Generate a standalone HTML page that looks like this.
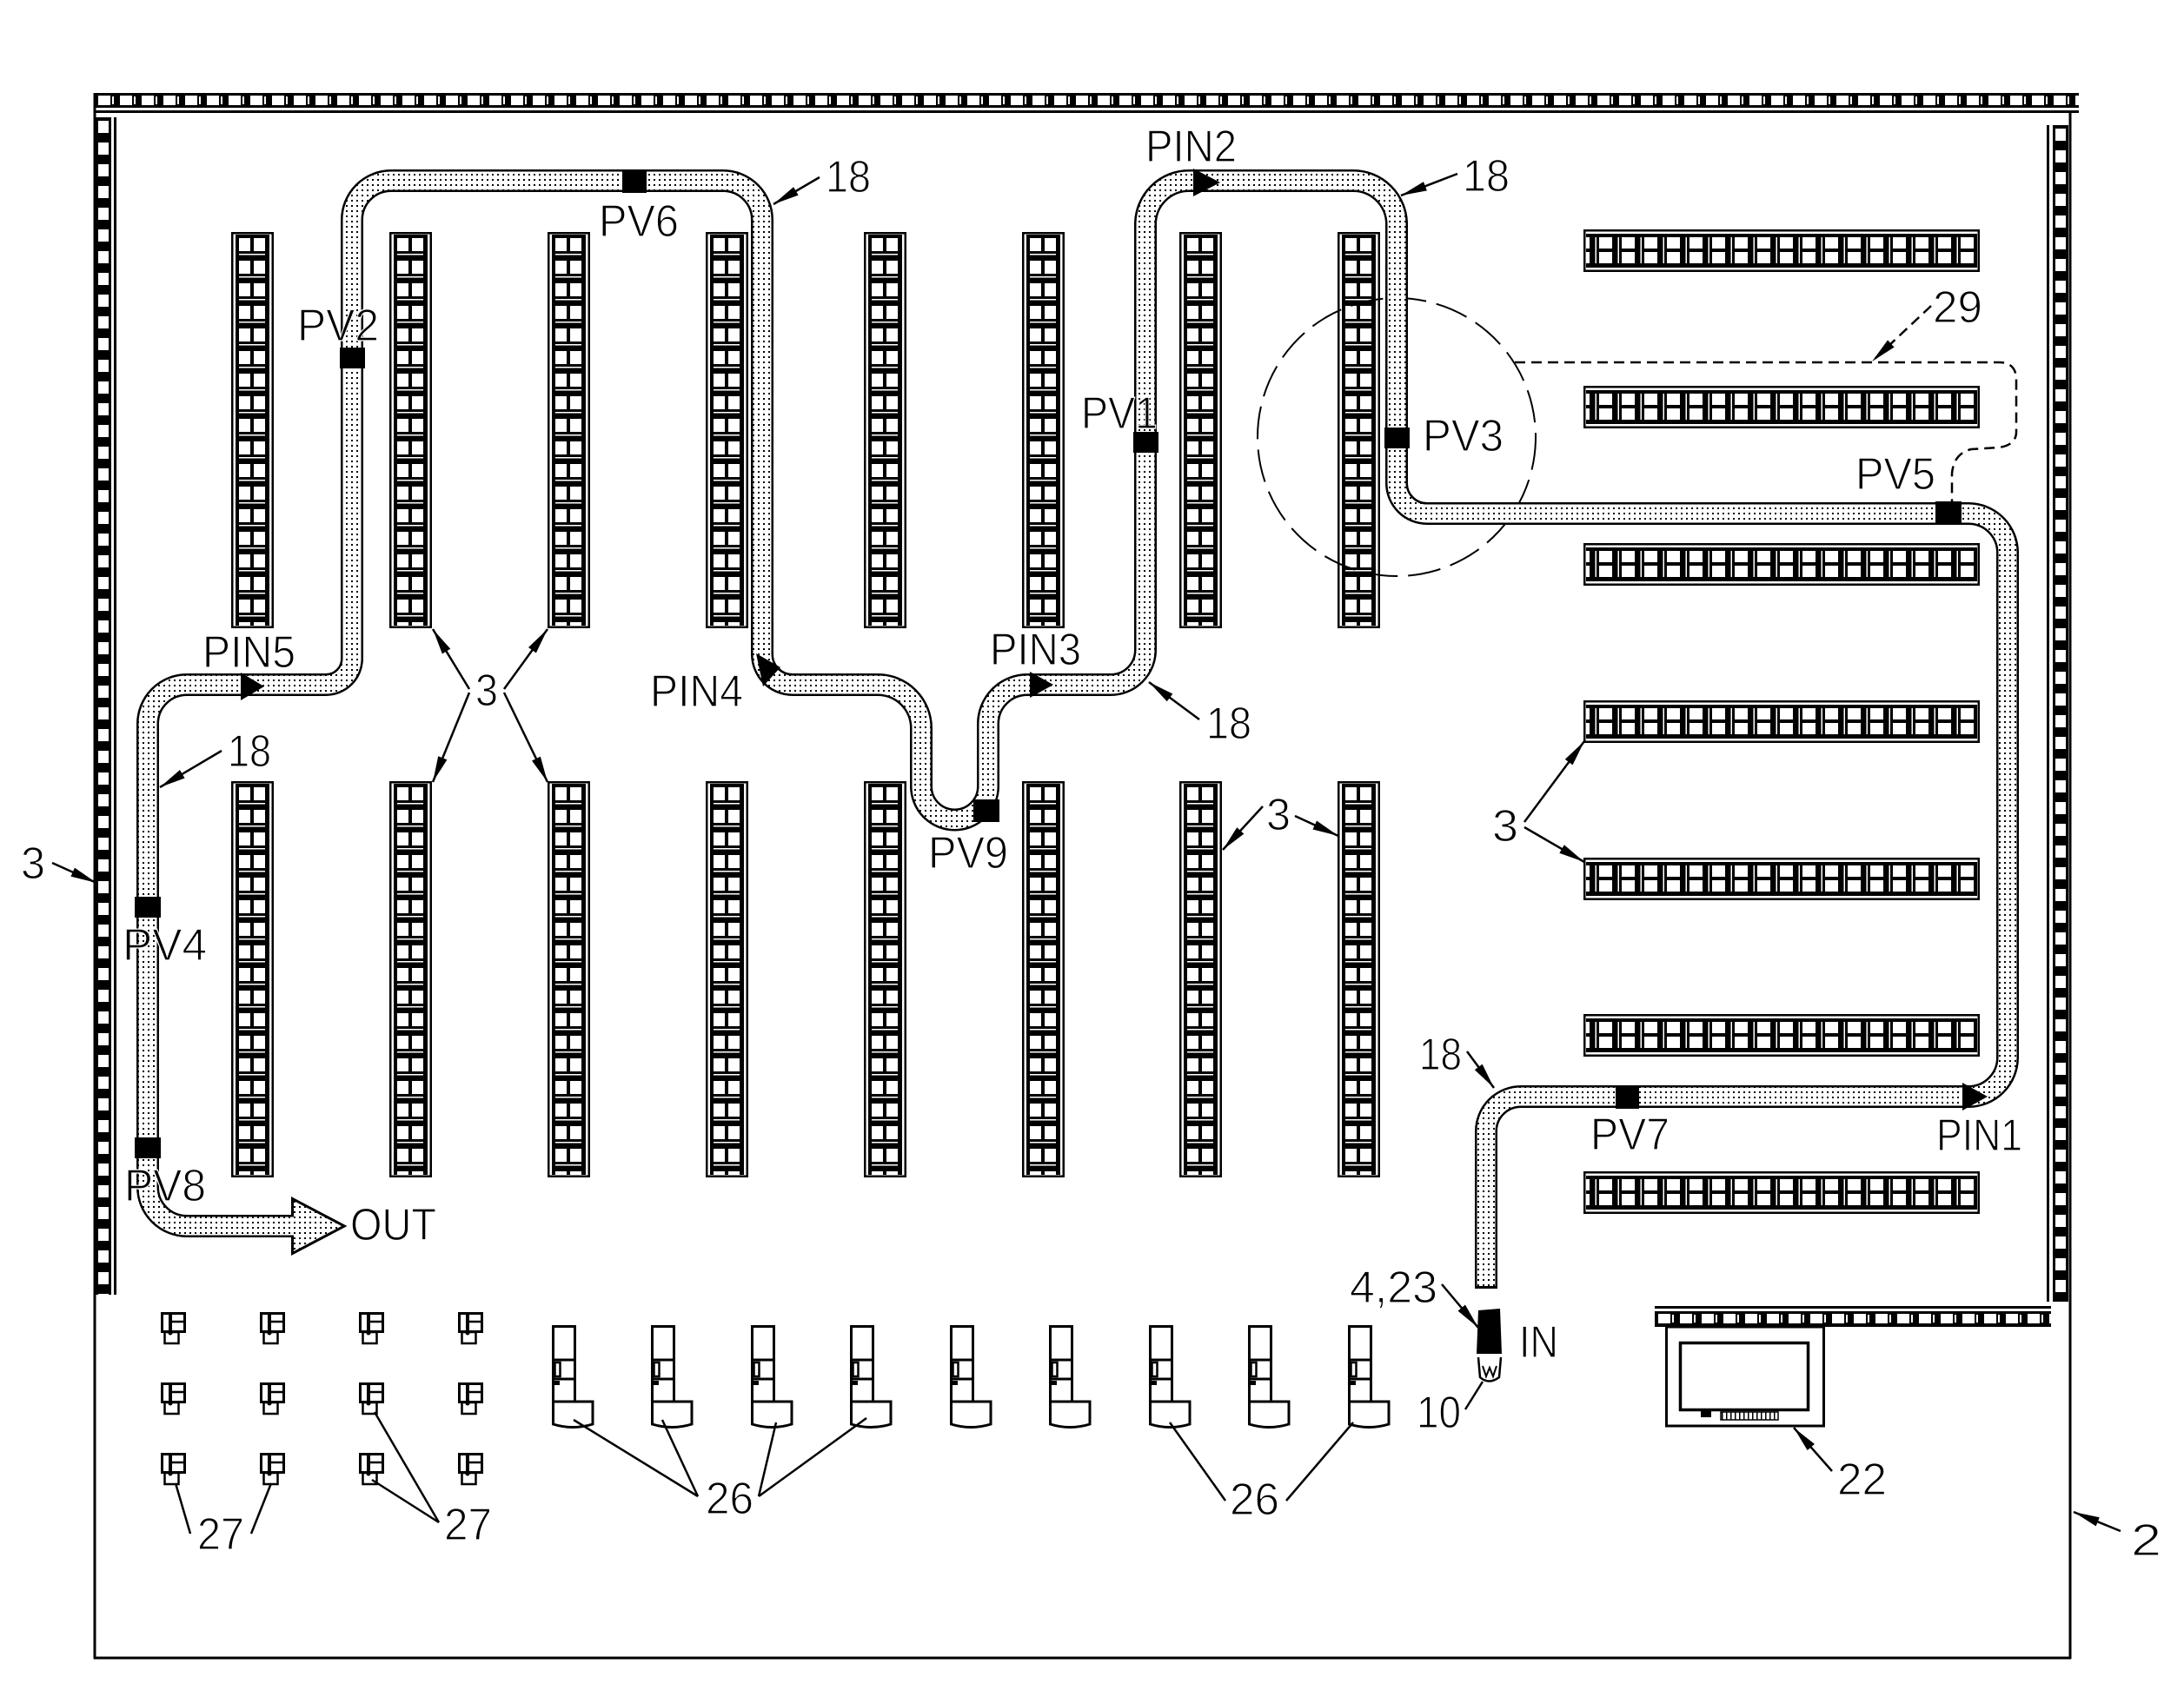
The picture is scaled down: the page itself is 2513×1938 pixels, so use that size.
<!DOCTYPE html>
<html><head><meta charset="utf-8">
<style>html,body{margin:0;padding:0;background:#fff}svg{display:block}</style>
</head><body>
<svg width="2513" height="1938" viewBox="0 0 2513 1938" xmlns="http://www.w3.org/2000/svg" xmlns:xlink="http://www.w3.org/1999/xlink">
<defs>
  <pattern id="dots" x="0" y="0" width="6" height="6" patternUnits="userSpaceOnUse">
    <rect width="6" height="6" fill="#fff"/><rect x="2" y="2" width="2" height="2" fill="#000"/>
  </pattern>
  <pattern id="vc" x="8" y="3" width="33" height="26" patternUnits="userSpaceOnUse">
    <rect width="33" height="26" fill="#000"/>
    <rect x="1" y="4" width="13" height="15" fill="#fff"/>
    <rect x="18" y="4" width="13" height="15" fill="#fff"/>
    <rect x="1" y="22" width="30" height="1.5" fill="#fff"/>
  </pattern>
  <g id="vr">
    <rect x="1.25" y="1.25" width="46.5" height="453.5" fill="#fff" stroke="#000" stroke-width="2.5"/>
    <rect x="5" y="3" width="39" height="450" fill="#000"/>
    <rect x="8" y="3" width="33" height="450" fill="url(#vc)"/>
  </g>
  <pattern id="vw" x="110" y="135" width="18" height="25" patternUnits="userSpaceOnUse">
    <rect width="18" height="25" fill="#000"/><rect x="3" y="4" width="12" height="14" fill="#fff"/>
  </pattern>
  <pattern id="vw2" x="2362" y="144" width="18" height="25" patternUnits="userSpaceOnUse">
    <rect width="18" height="25" fill="#000"/><rect x="3" y="4" width="12" height="14" fill="#fff"/>
  </pattern>
  <pattern id="hw" x="109" y="107" width="25" height="17" patternUnits="userSpaceOnUse">
    <rect width="25" height="17" fill="#000"/><rect x="4" y="3" width="14" height="11" fill="#fff"/><rect x="20" y="4" width="2" height="9" fill="#fff"/>
  </pattern>
  <pattern id="hw2" x="1904" y="1509" width="25" height="17" patternUnits="userSpaceOnUse">
    <rect width="25" height="17" fill="#000"/><rect x="4" y="3" width="14" height="11" fill="#fff"/><rect x="20" y="4" width="2" height="9" fill="#fff"/>
  </pattern>
  <pattern id="strip" x="1980" y="1625" width="5" height="9" patternUnits="userSpaceOnUse">
    <rect width="5" height="9" fill="#fff"/><rect x="1" width="1.5" height="9" fill="#000"/>
  </pattern>
  <marker id="ar" markerUnits="userSpaceOnUse" markerWidth="32" markerHeight="14" refX="30" refY="7" orient="auto">
    <path d="M0,1.5 L30,7 L0,12.5 Z" fill="#000"/>
  </marker>
  <g id="u26">
    <rect x="1.5" y="1.5" width="25" height="87" fill="#fff" stroke="#000" stroke-width="3"/>
    <line x1="0" y1="40" x2="27" y2="40" stroke="#000" stroke-width="3"/>
    <line x1="0" y1="62" x2="27" y2="62" stroke="#000" stroke-width="3"/>
    <rect x="3.5" y="43" width="6" height="16" fill="none" stroke="#000" stroke-width="2.5"/>
    <rect x="3" y="64" width="6" height="5" fill="#000"/>
    <path d="M1.5,88 L47,88 L47,114 Q24,121 1.5,114 Z" fill="#fff" stroke="#000" stroke-width="3"/>
  </g>
  <g id="u27">
    <rect x="4.5" y="23" width="16" height="13" fill="#fff" stroke="#000" stroke-width="2.5"/>
    <rect x="1.5" y="1.5" width="26" height="21" fill="#fff" stroke="#000" stroke-width="3"/>
    <line x1="11" y1="1.5" x2="11" y2="24" stroke="#000" stroke-width="4"/>
    <line x1="11" y1="11" x2="27" y2="11" stroke="#000" stroke-width="2.5"/>
    <circle cx="11" cy="24" r="2.5" fill="#000"/>
  </g>
</defs>

<rect width="2513" height="1938" fill="#fff"/>

<!-- building outline -->
<g stroke="#000" stroke-width="3" fill="none">
  <line x1="109" y1="107" x2="109" y2="1909"/>
  <line x1="108" y1="1908" x2="2383" y2="1908"/>
  <line x1="2382" y1="130" x2="2382" y2="1909"/>
</g>

<!-- walls -->
<rect x="109" y="107" width="2283" height="17" fill="url(#hw)"/>
<rect x="109" y="127" width="2283" height="3" fill="#000"/>
<rect x="110" y="135" width="18" height="1355" fill="url(#vw)"/>
<rect x="131" y="135" width="3" height="1355" fill="#000"/>
<rect x="2362" y="144" width="18" height="1354" fill="url(#vw2)"/>
<rect x="2355" y="144" width="3" height="1354" fill="#000"/>
<rect x="1904" y="1509" width="456" height="18" fill="url(#hw2)"/>
<rect x="1904" y="1503" width="456" height="3" fill="#000"/>

<!-- vertical racks -->
<use xlink:href="#vr" href="#vr" x="266" y="267"/>
<use xlink:href="#vr" href="#vr" x="448" y="267"/>
<use xlink:href="#vr" href="#vr" x="630" y="267"/>
<use xlink:href="#vr" href="#vr" x="812" y="267"/>
<use xlink:href="#vr" href="#vr" x="994" y="267"/>
<use xlink:href="#vr" href="#vr" x="1176" y="267"/>
<use xlink:href="#vr" href="#vr" x="1357" y="267"/>
<use xlink:href="#vr" href="#vr" x="1539" y="267"/>
<use xlink:href="#vr" href="#vr" x="266" y="899"/>
<use xlink:href="#vr" href="#vr" x="448" y="899"/>
<use xlink:href="#vr" href="#vr" x="630" y="899"/>
<use xlink:href="#vr" href="#vr" x="812" y="899"/>
<use xlink:href="#vr" href="#vr" x="994" y="899"/>
<use xlink:href="#vr" href="#vr" x="1176" y="899"/>
<use xlink:href="#vr" href="#vr" x="1357" y="899"/>
<use xlink:href="#vr" href="#vr" x="1539" y="899"/>

<!-- horizontal racks -->
<use xlink:href="#vr" href="#vr" transform="translate(2278,264) rotate(90)"/>
<use xlink:href="#vr" href="#vr" transform="translate(2278,444) rotate(90)"/>
<use xlink:href="#vr" href="#vr" transform="translate(2278,625) rotate(90)"/>
<use xlink:href="#vr" href="#vr" transform="translate(2278,806) rotate(90)"/>
<use xlink:href="#vr" href="#vr" transform="translate(2278,987) rotate(90)"/>
<use xlink:href="#vr" href="#vr" transform="translate(2278,1167) rotate(90)"/>
<use xlink:href="#vr" href="#vr" transform="translate(2278,1348) rotate(90)"/>

<!-- circle & dashed 29 -->
<circle cx="1607" cy="503" r="160" fill="none" stroke="#000" stroke-width="2" stroke-dasharray="38 12"/>
<path d="M1743,417 L2300,417 Q2320,417 2320,437 L2320,497 Q2320,512 2300,515 L2268,517 Q2248,522 2246,545 L2246,578" fill="none" stroke="#000" stroke-width="2.5" stroke-dasharray="12 7"/>

<!-- conveyor path 18 -->
<path d="M1710,1483 L1710,1302 A40,40 0 0 1 1750,1262 L2265,1262 A45,45 0 0 0 2310,1217 L2310,636 A45,45 0 0 0 2265,591 L1642,591 A35,35 0 0 1 1607,556 L1607,258 A50,50 0 0 0 1557,208 L1368,208 A50,50 0 0 0 1318,258 L1318,748 A40,40 0 0 1 1278,788 L1182,788 A45,45 0 0 0 1137,833 L1137,905 A38.5,38.5 0 0 1 1060,905 L1060,838 A50,50 0 0 0 1010,788 L912,788 A35,35 0 0 1 877,753 L877,253 A45,45 0 0 0 832,208 L450,208 A45,45 0 0 0 405,253 L405,758 A30,30 0 0 1 375,788 L215,788 A45,45 0 0 0 170,833 L170,1366 A45,45 0 0 0 215,1411 L340,1411" fill="none" stroke="#000" stroke-width="26"/>
<polygon points="338,1382 393,1411 338,1440" fill="#000" stroke="#000" stroke-width="6" stroke-linejoin="miter"/>
<path d="M1710,1480 L1710,1302 A40,40 0 0 1 1750,1262 L2265,1262 A45,45 0 0 0 2310,1217 L2310,636 A45,45 0 0 0 2265,591 L1642,591 A35,35 0 0 1 1607,556 L1607,258 A50,50 0 0 0 1557,208 L1368,208 A50,50 0 0 0 1318,258 L1318,748 A40,40 0 0 1 1278,788 L1182,788 A45,45 0 0 0 1137,833 L1137,905 A38.5,38.5 0 0 1 1060,905 L1060,838 A50,50 0 0 0 1010,788 L912,788 A35,35 0 0 1 877,753 L877,253 A45,45 0 0 0 832,208 L450,208 A45,45 0 0 0 405,253 L405,758 A30,30 0 0 1 375,788 L215,788 A45,45 0 0 0 170,833 L170,1366 A45,45 0 0 0 215,1411 L342,1411" fill="none" stroke="url(#dots)" stroke-width="21"/>
<polygon points="338,1382 393,1411 338,1440" fill="url(#dots)"/>

<!-- PV boxes -->
<g fill="#000">
  <rect x="391" y="400" width="29" height="24"/>
  <rect x="716" y="195" width="28" height="27"/>
  <rect x="155" y="1032" width="30" height="24"/>
  <rect x="155" y="1309" width="30" height="24"/>
  <rect x="1120" y="920" width="30" height="26"/>
  <rect x="1304" y="497" width="29" height="24"/>
  <rect x="1593" y="492" width="29" height="24"/>
  <rect x="2227" y="577" width="30" height="27"/>
  <rect x="1859" y="1249" width="27" height="27"/>
</g>

<!-- PIN arrowheads -->
<g fill="#000">
  <polygon points="277,774 304,790 277,806"/>
  <polygon points="1185,773 1212,788 1185,803"/>
  <polygon points="1373,194 1404,210 1373,226"/>
  <polygon points="2258,1246 2287,1262 2258,1278"/>
  <polygon points="870,752 898,768 878,790"/>
</g>

<!-- IN device & gripper -->
<polygon points="1701,1508 1726,1506 1728,1558 1699,1558" fill="#000"/>
<path d="M1701,1562 L1703,1585 Q1713,1594 1725,1585 L1727,1562" fill="none" stroke="#000" stroke-width="2.5"/>
<path d="M1706,1572 L1710,1584 L1714,1574 L1718,1584 L1722,1572" fill="none" stroke="#000" stroke-width="2"/>

<!-- terminal 22 -->
<rect x="1917.5" y="1527" width="181" height="114" fill="#fff" stroke="#000" stroke-width="3"/>
<rect x="1933.5" y="1545.5" width="147" height="77" fill="#fff" stroke="#000" stroke-width="3.5"/>
<rect x="1957" y="1623" width="12" height="8" fill="#000"/>
<rect x="1980" y="1625" width="66" height="9" fill="url(#strip)" stroke="#000" stroke-width="1.5"/>

<!-- 26 units -->
<use xlink:href="#u26" href="#u26" x="635" y="1525"/>
<use xlink:href="#u26" href="#u26" x="749" y="1525"/>
<use xlink:href="#u26" href="#u26" x="864" y="1525"/>
<use xlink:href="#u26" href="#u26" x="978" y="1525"/>
<use xlink:href="#u26" href="#u26" x="1093" y="1525"/>
<use xlink:href="#u26" href="#u26" x="1207" y="1525"/>
<use xlink:href="#u26" href="#u26" x="1322" y="1525"/>
<use xlink:href="#u26" href="#u26" x="1436" y="1525"/>
<use xlink:href="#u26" href="#u26" x="1551" y="1525"/>

<!-- 27 units -->
<use xlink:href="#u27" href="#u27" x="185" y="1510"/>
<use xlink:href="#u27" href="#u27" x="299" y="1510"/>
<use xlink:href="#u27" href="#u27" x="413" y="1510"/>
<use xlink:href="#u27" href="#u27" x="527" y="1510"/>
<use xlink:href="#u27" href="#u27" x="185" y="1591"/>
<use xlink:href="#u27" href="#u27" x="299" y="1591"/>
<use xlink:href="#u27" href="#u27" x="413" y="1591"/>
<use xlink:href="#u27" href="#u27" x="527" y="1591"/>
<use xlink:href="#u27" href="#u27" x="185" y="1672"/>
<use xlink:href="#u27" href="#u27" x="299" y="1672"/>
<use xlink:href="#u27" href="#u27" x="413" y="1672"/>
<use xlink:href="#u27" href="#u27" x="527" y="1672"/>

<!-- leaders with arrowheads -->
<g stroke="#000" stroke-width="2.5" fill="none" marker-end="url(#ar)">
  <line x1="255" y1="864" x2="184" y2="906"/>
  <line x1="943" y1="204" x2="890" y2="235"/>
  <line x1="1677" y1="200" x2="1612" y2="225"/>
  <line x1="1380" y1="828" x2="1322" y2="785"/>
  <line x1="1688" y1="1210" x2="1719" y2="1252"/>
  <line x1="540" y1="793" x2="498" y2="724"/>
  <line x1="540" y1="797" x2="498" y2="900"/>
  <line x1="580" y1="793" x2="630" y2="724"/>
  <line x1="580" y1="797" x2="630" y2="900"/>
  <line x1="1453" y1="928" x2="1407" y2="978"/>
  <line x1="1490" y1="939" x2="1540" y2="962"/>
  <line x1="1754" y1="946" x2="1823" y2="853"/>
  <line x1="1754" y1="952" x2="1823" y2="992"/>
  <line x1="60" y1="993" x2="111" y2="1016"/>
  <line x1="1659" y1="1478" x2="1701" y2="1528"/>
  <line x1="2108" y1="1693" x2="2064" y2="1643"/>
  <line x1="2440" y1="1762" x2="2386" y2="1740"/>
  <line x1="2222" y1="352" x2="2154" y2="416" stroke-dasharray="12 7"/>
</g>

<!-- plain leaders -->
<g stroke="#000" stroke-width="2.5" fill="none">
  <line x1="1686" y1="1622" x2="1706" y2="1590"/>
  <line x1="803" y1="1722" x2="660" y2="1634"/>
  <line x1="803" y1="1722" x2="762" y2="1634"/>
  <line x1="873" y1="1722" x2="893" y2="1637"/>
  <line x1="873" y1="1722" x2="997" y2="1632"/>
  <line x1="1410" y1="1727" x2="1346" y2="1637"/>
  <line x1="1480" y1="1727" x2="1557" y2="1637"/>
  <line x1="219" y1="1765" x2="202" y2="1707"/>
  <line x1="289" y1="1765" x2="312" y2="1707"/>
  <line x1="505" y1="1752" x2="431" y2="1625"/>
  <line x1="505" y1="1752" x2="428" y2="1703"/>
</g>

<!-- labels -->
<g font-family="'Liberation Sans', 'DejaVu Sans', sans-serif" font-size="52" fill="#000" stroke="#fff" stroke-width="1.2" lengthAdjust="spacingAndGlyphs">
  <text x="342" y="392" textLength="94" lengthAdjust="spacingAndGlyphs">PV2</text>
  <text x="689" y="272" textLength="92" lengthAdjust="spacingAndGlyphs">PV6</text>
  <text x="950" y="221" textLength="52" lengthAdjust="spacingAndGlyphs">18</text>
  <text x="233" y="768" textLength="107" lengthAdjust="spacingAndGlyphs">PIN5</text>
  <text x="262" y="882" textLength="50" lengthAdjust="spacingAndGlyphs">18</text>
  <text x="547" y="812" textLength="26" lengthAdjust="spacingAndGlyphs">3</text>
  <text x="141" y="1105" textLength="97" lengthAdjust="spacingAndGlyphs">PV4</text>
  <text x="143" y="1382" textLength="94" lengthAdjust="spacingAndGlyphs">PV8</text>
  <text x="403" y="1427" textLength="99" lengthAdjust="spacingAndGlyphs">OUT</text>
  <text x="748" y="813" textLength="107" lengthAdjust="spacingAndGlyphs">PIN4</text>
  <text x="1139" y="765" textLength="105" lengthAdjust="spacingAndGlyphs">PIN3</text>
  <text x="1068" y="999" textLength="92" lengthAdjust="spacingAndGlyphs">PV9</text>
  <text x="1388" y="850" textLength="52" lengthAdjust="spacingAndGlyphs">18</text>
  <text x="1244" y="493" textLength="88" lengthAdjust="spacingAndGlyphs">PV1</text>
  <text x="1318" y="186" textLength="105" lengthAdjust="spacingAndGlyphs">PIN2</text>
  <text x="1683" y="220" textLength="54" lengthAdjust="spacingAndGlyphs">18</text>
  <text x="1637" y="519" textLength="93" lengthAdjust="spacingAndGlyphs">PV3</text>
  <text x="2224" y="371" textLength="57" lengthAdjust="spacingAndGlyphs">29</text>
  <text x="2135" y="563" textLength="92" lengthAdjust="spacingAndGlyphs">PV5</text>
  <text x="1717" y="968" textLength="30" lengthAdjust="spacingAndGlyphs">3</text>
  <text x="1457" y="955" textLength="28" lengthAdjust="spacingAndGlyphs">3</text>
  <text x="24" y="1011" textLength="28" lengthAdjust="spacingAndGlyphs">3</text>
  <text x="1633" y="1231" textLength="49" lengthAdjust="spacingAndGlyphs">18</text>
  <text x="1830" y="1323" textLength="91" lengthAdjust="spacingAndGlyphs">PV7</text>
  <text x="2228" y="1324" textLength="99" lengthAdjust="spacingAndGlyphs">PIN1</text>
  <text x="1553" y="1499" textLength="101" lengthAdjust="spacingAndGlyphs">4,23</text>
  <text x="1748" y="1562" textLength="45" lengthAdjust="spacingAndGlyphs">IN</text>
  <text x="1630" y="1643" textLength="51" lengthAdjust="spacingAndGlyphs">10</text>
  <text x="2114" y="1720" textLength="57" lengthAdjust="spacingAndGlyphs">22</text>
  <text x="2452" y="1790" textLength="35" lengthAdjust="spacingAndGlyphs">2</text>
  <text x="812" y="1742" textLength="55" lengthAdjust="spacingAndGlyphs">26</text>
  <text x="1415" y="1743" textLength="57" lengthAdjust="spacingAndGlyphs">26</text>
  <text x="227" y="1783" textLength="54" lengthAdjust="spacingAndGlyphs">27</text>
  <text x="511" y="1772" textLength="55" lengthAdjust="spacingAndGlyphs">27</text>
</g>
</svg>
</body></html>
